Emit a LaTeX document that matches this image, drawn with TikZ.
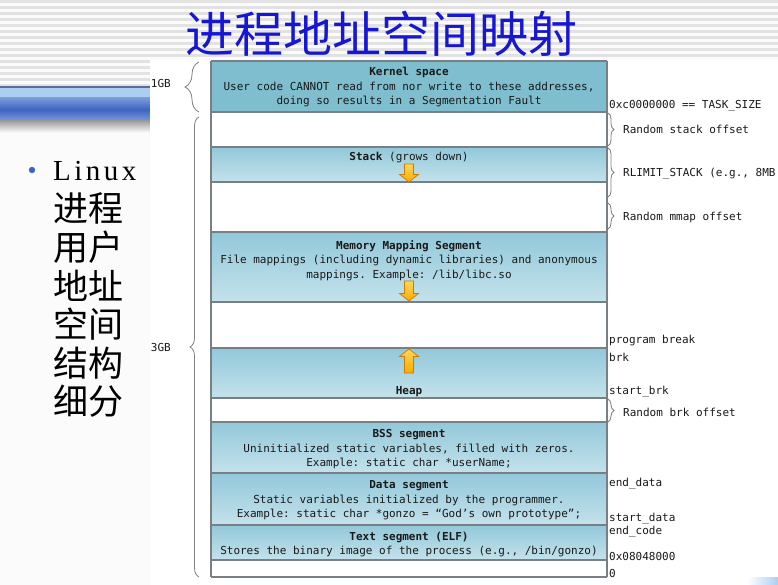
\documentclass[tikz,border=0pt]{standalone}
\usepackage{fontspec}
\setmonofont{DejaVu Sans Mono}
\newfontfamily\cjk{Noto Sans CJK SC}
\newfontfamily\slidelatin[LetterSpace=12]{Liberation Serif}
\usetikzlibrary{decorations.pathreplacing,calc}

\definecolor{segblue}{RGB}{146,200,218}
\definecolor{seglight}{RGB}{196,226,235}
\definecolor{kernblue}{RGB}{126,190,207}
\definecolor{edgegray}{RGB}{120,128,134}
\definecolor{titleblue}{RGB}{22,22,212}
\definecolor{arrowtop}{RGB}{255,214,90}
\definecolor{arrowbot}{RGB}{250,170,0}
\definecolor{arrowedge}{RGB}{200,125,0}
\definecolor{stripe}{RGB}{226,226,226}
\definecolor{barline}{RGB}{95,105,150}
\definecolor{barlight}{RGB}{172,206,240}
\definecolor{barmid}{RGB}{120,155,220}
\definecolor{bardark}{RGB}{62,100,192}
\definecolor{bullet}{RGB}{60,100,200}

\newcommand{\batas}[1]{\foreach \y in {#1} \draw[segline] (211,\y) -- (607,\y);}
% #1 base, #2 direction (1 down, -1 up), #3 length
\newcommand{\panah}[3]{\draw[blockarrow,shift={(#1)},yscale=#2]
  (-4.5,0) -- (4.5,0) -- (4.5,#3-7.5) -- (9.5,#3-7.5) -- (0,#3) -- (-9.5,#3-7.5) -- (-4.5,#3-7.5) -- cycle;}

\begin{document}
\begin{tikzpicture}[x=1pt,y=-1pt,
  segtext/.style={font=\ttfamily\fontsize{11}{14.5}\selectfont,align=center,inner sep=0pt,text=black!90},
  addr/.style={font=\ttfamily\fontsize{11}{13}\selectfont,anchor=west,inner sep=0pt,text=black!90},
  segline/.style={draw=edgegray,line width=1.5pt},
  seg/.style={top color=segblue,bottom color=seglight},
  curly/.style={draw=gray,line width=0.8pt,decorate,decoration={brace,amplitude=#1}},
  blockarrow/.style={draw=arrowedge,line width=0.7pt,top color=arrowtop,bottom color=arrowbot},
  cjkline/.style={font=\cjk\fontsize{35}{38}\selectfont,anchor=west,inner sep=0pt}]
  \useasboundingbox (0,0) rectangle (778,585);

  % slide background
  \fill[white!97!gray] (0,0) rectangle (778,585);
  \foreach \k in {0,...,14} \fill[stripe] (0,6*\k) rectangle (778,6*\k+3);
  \fill[barline] (0,86) rectangle (150,88);
  \fill[barlight] (0,88) rectangle (150,98);
  \shade[top color=barmid,bottom color=barmid,middle color=bardark] (0,98) rectangle (150,121);
  \shade[top color=gray!75,bottom color=white] (0,121) rectangle (150,133);
  \fill[white] (150,60) rectangle (778,585);
  \shade[left color=white,right color=barlight] (747,577) rectangle (778,585);

  \node[font=\cjk\fontsize{49}{52}\selectfont,text=titleblue] (title) at (381,34) {进程地址空间映射};

  % bullet text
  \fill[bullet] (32,170) circle (3.2);
  \node[anchor=west,inner sep=0pt,font=\slidelatin\fontsize{29}{30}\selectfont] (linux) at (53,171) {Linux};
  \foreach \w [count=\i] in {进程,用户,地址,空间,结构,细分}
    \node[cjkline] (baris\i) at (53,170+38.6*\i) {\w};

  % segments
  \fill[kernblue] (211,61) rectangle (607,112);
  \shade[seg] (211,147) rectangle (607,182);
  \shade[seg] (211,232) rectangle (607,302);
  \shade[seg] (211,348) rectangle (607,398);
  \shade[seg] (211,422) rectangle (607,473);
  \shade[seg] (211,473) rectangle (607,525);
  \shade[seg] (211,525) rectangle (607,560);
  \batas{61,112,147,182,232,302,348,398,422,473,525,560,577}
  \draw[edgegray,line width=1.2pt] (211,61) -- (211,577);
  \draw[edgegray,line width=1.2pt] (607,61) -- (607,577);

  \node[segtext] (kernel) at (409,87.5) {\textbf{Kernel space}\\User code CANNOT read from nor write to these addresses,\\doing so results in a Segmentation Fault};
  \node[segtext] (stack) at (409,157.5) {\textbf{Stack} (grows down)};
  \node[segtext] (mmap) at (409,260.5) {\textbf{Memory Mapping Segment}\\File mappings (including dynamic libraries) and anonymous\\mappings. Example: /lib/libc.so};
  \node[segtext] (heap) at (409,391.5) {\textbf{Heap}};
  \node[segtext] (bss) at (409,449.5) {\textbf{BSS segment}\\Uninitialized static variables, filled with zeros.\\Example: static char *userName;};
  \node[segtext] (data) at (409,500.5) {\textbf{Data segment}\\Static variables initialized by the programmer.\\Example: static char *gonzo = “God’s own prototype”;};
  \node[segtext] (text) at (409,544.5) {\textbf{Text segment (ELF)}\\Stores the binary image of the process (e.g., /bin/gonzo)};

  \panah{409,164}{1}{18}
  \panah{409,281}{1}{20}
  \panah{409,373}{-1}{24}

  % braces
  \coordinate (gbA) at (199,112);
  \coordinate (gbB) at (199,62);
  \coordinate (gbC) at (199,577);
  \coordinate (gbD) at (199,117);
  \draw[curly=14] (gbA) -- (gbB);
  \draw[curly=9] (gbC) -- (gbD);
  \node[addr,anchor=east] (satugb) at (171,83) {1GB};
  \node[addr,anchor=east] (tigagb) at (171,347) {3GB};

  \coordinate (rsA) at (608,113);
  \coordinate (rsB) at (608,146);
  \coordinate (rlA) at (608,148);
  \coordinate (rlB) at (608,197);
  \coordinate (rmA) at (608,203);
  \coordinate (rmB) at (608,229);
  \coordinate (rbA) at (608,399);
  \coordinate (rbB) at (608,422);
  \draw[curly=6] (rsA) -- (rsB);
  \draw[curly=6] (rlA) -- (rlB);
  \draw[curly=6] (rmA) -- (rmB);
  \draw[curly=6] (rbA) -- (rbB);

  \node[addr] (tasksize) at (609,106) {0xc0000000 == TASK\_SIZE};
  \node[addr] (rstack) at (623,129) {Random stack offset};
  \node[addr] (rlimit) at (623,174) {RLIMIT\_STACK (e.g., 8MB};
  \node[addr] (rmmap) at (623,217) {Random mmap offset};
  \node[addr] (pbreak) at (609,341) {program break};
  \node[addr] (brk) at (609,357) {brk};
  \node[addr] (startbrk) at (609,392) {start\_brk};
  \node[addr] (rbrk) at (623,412) {Random brk offset};
  \node[addr] (enddata) at (609,484) {end\_data};
  \node[addr] (startdata) at (609,519) {start\_data};
  \node[addr] (endcode) at (609,532) {end\_code};
  \node[addr] (textstart) at (609,556) {0x08048000};
  \node[addr] (nol) at (609,573) {0};
\end{tikzpicture}
\end{document}
